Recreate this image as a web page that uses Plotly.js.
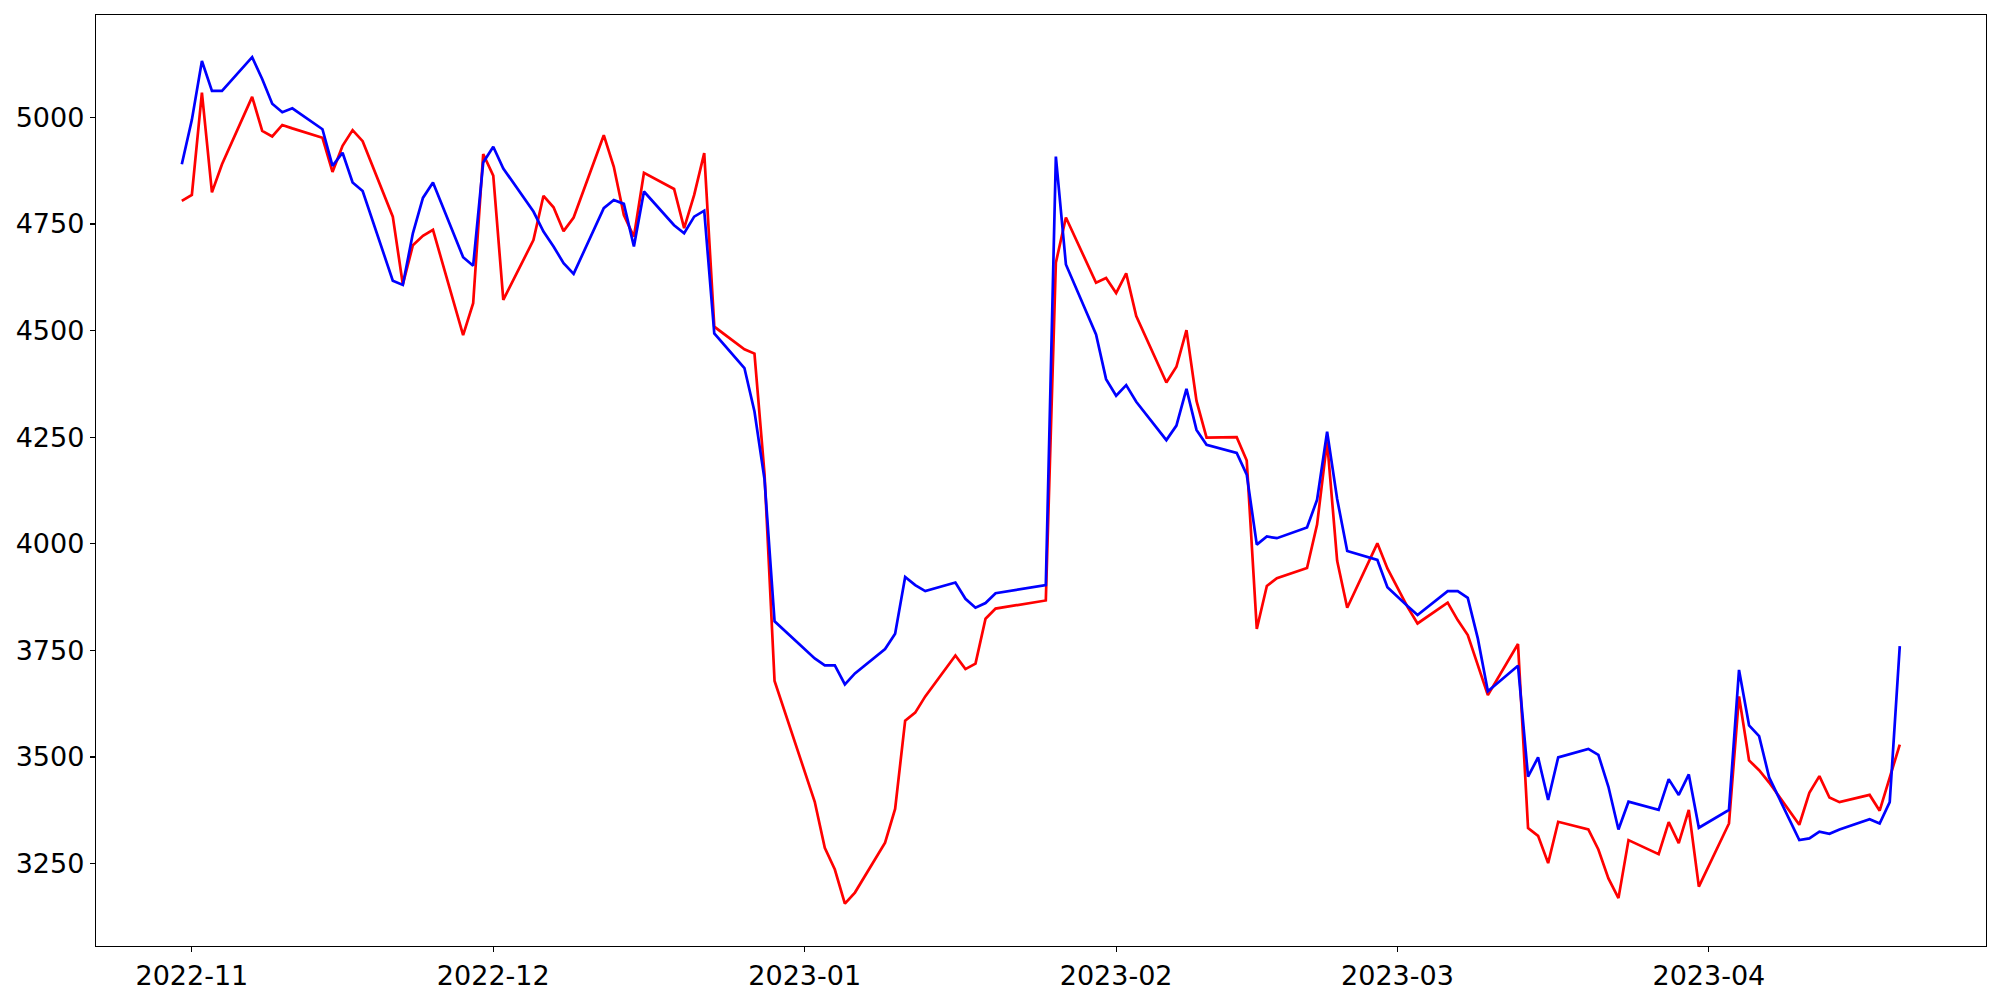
<!DOCTYPE html>
<html>
<head>
<meta charset="utf-8">
<script src="https://cdn.plot.ly/plotly-3.0.1.min.js"></script>
<style>
  html, body { margin: 0; padding: 0; background: #ffffff; }
  #chart { width: 2000px; height: 1000px; }
</style>
</head>
<body>
<div id="chart"></div>
<script>
const dates = [
  "2022-10-31","2022-11-01","2022-11-02","2022-11-03","2022-11-04",
  "2022-11-07","2022-11-08","2022-11-09","2022-11-10","2022-11-11",
  "2022-11-14","2022-11-15","2022-11-16","2022-11-17","2022-11-18",
  "2022-11-21","2022-11-22","2022-11-23","2022-11-24","2022-11-25",
  "2022-11-28","2022-11-29","2022-11-30","2022-12-01","2022-12-02",
  "2022-12-05","2022-12-06","2022-12-07","2022-12-08","2022-12-09",
  "2022-12-12","2022-12-13","2022-12-14","2022-12-15","2022-12-16",
  "2022-12-19","2022-12-20","2022-12-21","2022-12-22","2022-12-23",
  "2022-12-26","2022-12-27","2022-12-28","2022-12-29",
  "2023-01-02","2023-01-03","2023-01-04","2023-01-05","2023-01-06",
  "2023-01-09","2023-01-10","2023-01-11","2023-01-12","2023-01-13",
  "2023-01-16","2023-01-17","2023-01-18","2023-01-19","2023-01-20",
  "2023-01-25","2023-01-26","2023-01-27",
  "2023-01-30","2023-01-31","2023-02-01","2023-02-02","2023-02-03",
  "2023-02-06","2023-02-07","2023-02-08","2023-02-09","2023-02-10",
  "2023-02-13","2023-02-14","2023-02-15","2023-02-16","2023-02-17",
  "2023-02-20","2023-02-21","2023-02-22","2023-02-23","2023-02-24",
  "2023-02-27","2023-02-28","2023-03-02","2023-03-03",
  "2023-03-06","2023-03-07","2023-03-08","2023-03-09","2023-03-10",
  "2023-03-13","2023-03-14","2023-03-15","2023-03-16","2023-03-17",
  "2023-03-20","2023-03-21","2023-03-22","2023-03-23","2023-03-24",
  "2023-03-27","2023-03-28","2023-03-29","2023-03-30","2023-03-31",
  "2023-04-03","2023-04-04","2023-04-05","2023-04-06","2023-04-07",
  "2023-04-10","2023-04-11","2023-04-12","2023-04-13","2023-04-14",
  "2023-04-17","2023-04-18","2023-04-19","2023-04-20"
];

const redValues = [
  4804, 4818, 5058, 4824, 4890,
  5048, 4968, 4955, 4982, 4974,
  4952, 4872, 4933, 4970, 4944,
  4767, 4608, 4700, 4722, 4736,
  4489, 4564, 4914, 4863, 4572,
  4712, 4816, 4789, 4733, 4765,
  4958, 4884, 4771, 4720, 4870,
  4832, 4740, 4818, 4916, 4509,
  4456, 4446, 4164, 3678,
  3395, 3287, 3236, 3156, 3182,
  3299, 3378, 3585, 3604, 3642,
  3738, 3706, 3719, 3824, 3848,
  3867, 4659, 4765,
  4612, 4623, 4588, 4634, 4534,
  4378, 4415, 4501, 4335, 4249,
  4250, 4195, 3800, 3901, 3919,
  3943, 4045, 4240, 3960, 3850,
  4001, 3942, 3852, 3813,
  3862, 3821, 3786, 3716, 3645,
  3765, 3333, 3315, 3251, 3348,
  3330, 3283, 3215, 3169, 3305,
  3272, 3347, 3298, 3376, 3196,
  3344, 3642, 3492, 3469, 3440,
  3341, 3416, 3455, 3405, 3394,
  3411, 3374, 3454, 3529
];

const blueValues = [
  4890, 4994, 5132, 5062, 5062,
  5141, 5090, 5032, 5012, 5021,
  4972, 4886, 4917, 4847, 4827,
  4617, 4607, 4728, 4811, 4847,
  4672, 4652, 4894, 4931, 4880,
  4779, 4732, 4697, 4658, 4633,
  4787, 4806, 4797, 4697, 4826,
  4747, 4728, 4767, 4781, 4493,
  4412, 4310, 4151, 3818,
  3731, 3715, 3715, 3670, 3696,
  3753, 3789, 3922, 3903, 3889,
  3909, 3871, 3850, 3861, 3884,
  3903, 4908, 4655,
  4491, 4386, 4347, 4372, 4333,
  4243, 4277, 4363, 4267, 4232,
  4213, 4162, 3998, 4017, 4013,
  4038, 4103, 4263, 4105, 3983,
  3962, 3898, 3854, 3833,
  3889, 3889, 3873, 3778, 3654,
  3714, 3454, 3499, 3399, 3499,
  3519, 3505, 3430, 3330, 3395,
  3376, 3448, 3411, 3459, 3334,
  3376, 3704, 3574, 3549, 3452,
  3305, 3309, 3325, 3320, 3330,
  3354, 3344, 3394, 3760
];

const xTickVals = ["2022-11-01","2022-12-01","2023-01-01","2023-02-01","2023-03-01","2023-04-01"];
const xTickText = ["2022-11","2022-12","2023-01","2023-02","2023-03","2023-04"];
const yTickVals = [3250, 3500, 3750, 4000, 4250, 4500, 4750, 5000];

const traces = [
  {
    x: dates, y: redValues, type: "scatter", mode: "lines",
    line: { color: "#ff0000", width: 2.7 }, name: "red", hoverinfo: "x+y"
  },
  {
    x: dates, y: blueValues, type: "scatter", mode: "lines",
    line: { color: "#0000ff", width: 2.7 }, name: "blue", hoverinfo: "x+y"
  }
];

const axisCommon = {
  showline: true, mirror: true, linecolor: "#000000", linewidth: 1.2,
  ticks: "outside", ticklen: 5, tickwidth: 1.2, tickcolor: "#000000",
  showgrid: false, zeroline: false,
  tickfont: { family: "DejaVu Sans", size: 27, color: "#000000" }
};

const layout = {
  width: 2000, height: 1000,
  margin: { l: 96, r: 14, t: 15, b: 54, pad: 0 },
  paper_bgcolor: "#ffffff", plot_bgcolor: "#ffffff",
  showlegend: false,
  xaxis: Object.assign({}, axisCommon, {
    type: "date",
    range: ["2022-10-22 11:00", "2023-04-28 14:00"],
    tickmode: "array", tickvals: xTickVals, ticktext: xTickText
  }),
  yaxis: Object.assign({}, axisCommon, {
    range: [3056.7, 5239.9],
    tickmode: "array", tickvals: yTickVals, ticktext: yTickVals.map(String)
  }),
  font: { family: "DejaVu Sans", color: "#000000" }
};

Plotly.newPlot("chart", traces, layout, { staticPlot: true, displayModeBar: false });
</script>
</body>
</html>
